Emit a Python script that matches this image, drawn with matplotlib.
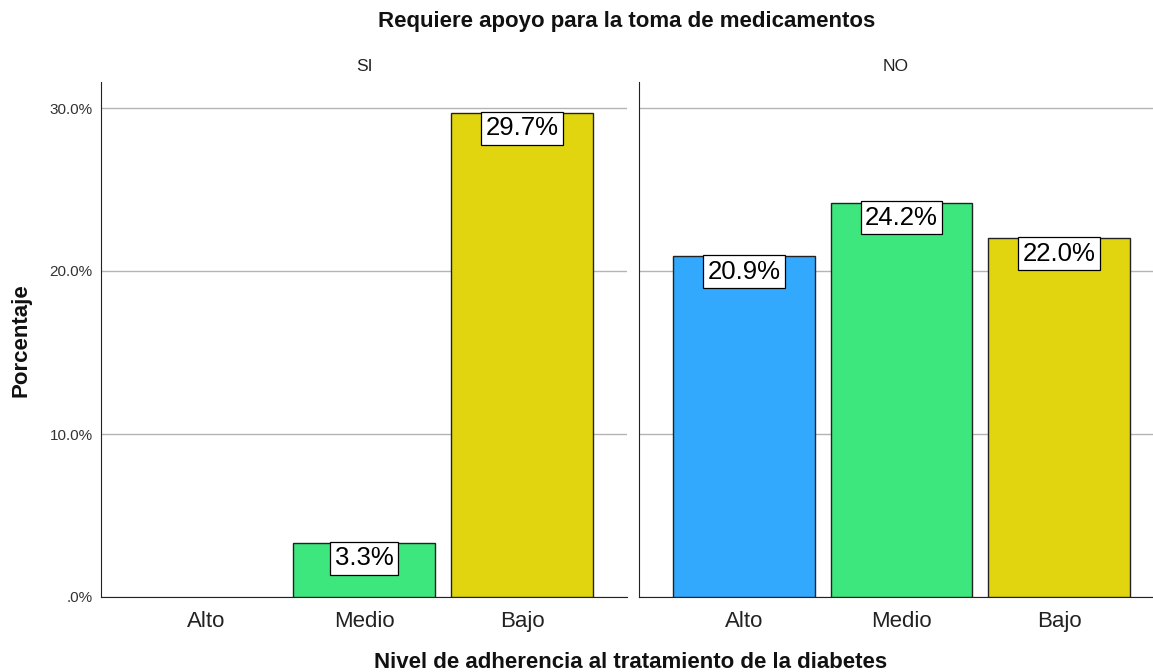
import matplotlib
matplotlib.use("Agg")
import matplotlib.pyplot as plt

plt.rcParams['font.family'] = ['Liberation Sans', 'DejaVu Sans']

categories = ["Alto", "Medio", "Bajo"]
panels = ["SI", "NO"]
values_si = [0.0, 3.3, 29.7]
values_no = [20.9, 24.2, 22.0]
yticks = [0, 10, 20, 30]
ytick_labels = [".0%", "10.0%", "20.0%", "30.0%"]
colors = ["#33A9FE", "#3EE67E", "#E1D510"]

W, H = 1153, 672
fig = plt.figure(figsize=(W / 100, H / 100), dpi=100)

def ax_rect(x0, x1, y0=82, y1=597):
    return [x0 / W, 1 - y1 / H, (x1 - x0) / W, (y1 - y0) / H]

ax1 = fig.add_axes(ax_rect(101, 627))
ax2 = fig.add_axes(ax_rect(639, 1153))

ymax = (597 - 82) / ((597 - 108) / 30.0)

for ax, vals, name, xr in [(ax1, values_si, panels[0], 2.665), (ax2, values_no, panels[1], 2.595)]:
    x = list(range(len(categories)))
    for i, v in enumerate(vals):
        if v > 0:
            ax.bar(i, v, width=0.9, color=colors[i], edgecolor="#222222", linewidth=1.0, zorder=3)
            ax.text(i, v - 0.2, f"{v:.1f}%", ha="center", va="top", fontsize=18.5,
                    color="black", zorder=5,
                    bbox=dict(boxstyle="square,pad=0.17", facecolor="white", edgecolor="black", linewidth=0.9))
    ax.set_xlim(-0.665, xr)
    ax.set_ylim(0, ymax)
    ax.set_xticks(x)
    ax.set_xticklabels(categories, fontsize=16, color="#222222")
    ax.tick_params(axis="x", length=0, pad=10)
    ax.set_yticks(yticks)
    ax.yaxis.grid(True, color="#B4B4B4", linewidth=1.0, zorder=0)
    ax.set_axisbelow(True)
    for s in ["top", "right"]:
        ax.spines[s].set_visible(False)
    ax.spines["left"].set_color("#222222")
    ax.spines["bottom"].set_color("#222222")
    ax.set_title(name, fontsize=12.5, color="#222222", pad=8)

ax1.set_yticklabels(ytick_labels, fontsize=11, color="#333333")
ax1.tick_params(axis="y", length=0, pad=6)
ax2.tick_params(axis="y", length=0, labelleft=False)

fig.text(627 / W, 1 - 22 / H, "Requiere apoyo para la toma de medicamentos",
         ha="center", va="center", fontsize=16, fontweight="bold", color="#111111")
fig.text(631 / W, 1 - 663 / H, "Nivel de adherencia al tratamiento de la diabetes",
         ha="center", va="center", fontsize=16, fontweight="bold", color="#111111")
fig.text(21 / W, 1 - 340 / H, "Porcentaje", ha="center", va="center", rotation=90,
         fontsize=16, fontweight="bold", color="#111111")

fig.savefig("out.png", dpi=100)
